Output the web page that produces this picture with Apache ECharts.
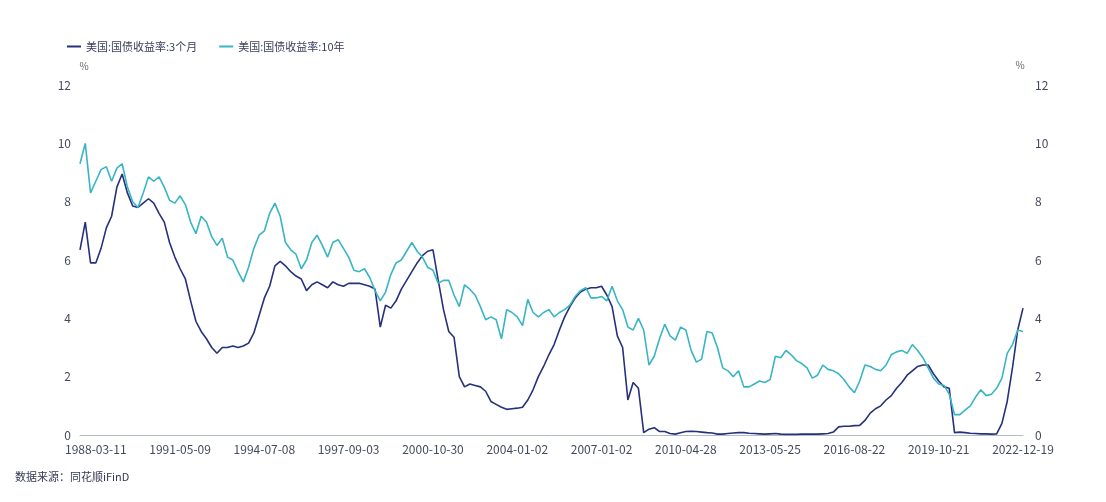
<!DOCTYPE html>
<html>
<head>
<meta charset="utf-8">
<script src="https://cdn.jsdelivr.net/npm/echarts@6/dist/echarts.min.js"></script>
<style>
html,body{margin:0;padding:0;background:#ffffff;}
#chart{width:1106px;height:502px;}
</style>
</head>
<body>
<div id="chart"></div>
<script>
// Tick labels shown on the x axis (every 16th category, starting at index 3)
const tickLabels = ['1988-03-11','1991-05-09','1994-07-08','1997-09-03','2000-10-30','2004-01-02','2007-01-02','2010-04-28','2013-05-25','2016-08-22','2019-10-21','2022-12-19'];
const tickStart = 3;
const tickStep = 16;

// US Treasury 3-month yield (%)
const yield3m = [
6.35,7.3,5.9,5.9,6.4,7.1,7.5,8.5,8.95,8.3,
7.85,7.8,7.95,8.1,7.95,7.6,7.3,6.6,6.1,5.7,
5.35,4.6,3.9,3.55,3.3,3.0,2.8,3.0,3.0,3.05,
3.0,3.05,3.15,3.5,4.1,4.7,5.1,5.8,5.95,5.8,
5.6,5.45,5.35,4.95,5.15,5.25,5.15,5.05,5.25,5.15,
5.1,5.2,5.2,5.2,5.15,5.1,5.0,3.7,4.45,4.35,
4.6,5.0,5.3,5.6,5.9,6.15,6.3,6.35,5.3,4.3,
3.55,3.35,2.0,1.65,1.75,1.7,1.65,1.5,1.15,1.05,
0.95,0.88,0.9,0.92,0.95,1.2,1.55,2.0,2.35,2.75,
3.1,3.6,4.05,4.4,4.7,4.9,5.0,5.05,5.05,5.1,
4.8,4.4,3.4,3.0,1.2,1.8,1.6,0.08,0.2,0.25,
0.12,0.12,0.05,0.03,0.08,0.12,0.13,0.12,0.1,0.08,
0.07,0.03,0.03,0.05,0.07,0.08,0.08,0.06,0.05,0.04,
0.03,0.04,0.05,0.03,0.02,0.02,0.02,0.03,0.03,0.03,
0.03,0.04,0.05,0.1,0.28,0.3,0.3,0.32,0.33,0.5,
0.75,0.9,1.0,1.2,1.35,1.6,1.8,2.05,2.2,2.35,
2.4,2.4,2.1,1.85,1.65,1.6,0.08,0.1,0.08,0.06,
0.05,0.04,0.04,0.03,0.04,0.4,1.15,2.3,3.6,4.35
];

// US Treasury 10-year yield (%)
const yield10y = [
9.3,10.0,8.3,8.7,9.1,9.2,8.7,9.15,9.3,8.5,
8.0,7.8,8.3,8.85,8.7,8.85,8.5,8.05,7.95,8.2,
7.9,7.3,6.9,7.5,7.3,6.8,6.5,6.75,6.1,6.0,
5.6,5.25,5.75,6.4,6.85,7.0,7.6,7.95,7.5,6.6,
6.35,6.2,5.7,6.0,6.6,6.85,6.5,6.1,6.6,6.7,
6.4,6.1,5.65,5.6,5.7,5.4,4.95,4.6,4.9,5.5,
5.9,6.0,6.3,6.6,6.3,6.1,5.75,5.65,5.2,5.3,
5.3,4.8,4.4,5.15,5.0,4.8,4.4,3.95,4.05,3.95,
3.3,4.3,4.2,4.05,3.75,4.65,4.2,4.05,4.2,4.3,
4.05,4.2,4.3,4.45,4.75,4.95,5.05,4.7,4.7,4.75,
4.6,5.1,4.6,4.3,3.7,3.6,4.0,3.6,2.4,2.7,
3.3,3.8,3.4,3.25,3.7,3.6,2.9,2.5,2.6,3.55,
3.5,3.0,2.3,2.2,2.0,2.2,1.65,1.65,1.75,1.85,
1.8,1.9,2.7,2.65,2.9,2.75,2.55,2.45,2.3,1.95,
2.05,2.4,2.25,2.2,2.1,1.9,1.65,1.45,1.85,2.4,
2.35,2.25,2.2,2.4,2.75,2.85,2.9,2.8,3.1,2.9,
2.65,2.3,1.95,1.75,1.7,1.4,0.7,0.7,0.85,1.0,
1.3,1.55,1.35,1.4,1.6,1.95,2.8,3.1,3.6,3.55
];

const seriesNames = ['美国:国债收益率:3个月', '美国:国债收益率:10年'];
const sourceText = '数据来源：同花顺iFinD';

// Category dates: tick labels at their indices, approximate dates in between
function buildCategories(n) {
  const t = tickLabels.map(s => Date.parse(s + 'T00:00:00Z'));
  const out = [];
  for (let i = 0; i < n; i++) {
    const r = i - tickStart;
    if (r >= 0 && r % tickStep === 0 && r / tickStep < tickLabels.length) { out.push(tickLabels[r / tickStep]); continue; }
    let k = Math.floor(r / tickStep);
    if (k < 0) k = 0;
    if (k > t.length - 2) k = t.length - 2;
    const f = (r - k * tickStep) / tickStep;
    const d = new Date(t[k] + f * (t[k + 1] - t[k]));
    out.push(d.toISOString().slice(0, 10));
  }
  return out;
}
const categories = buildCategories(yield3m.length);

const font = '"Noto Sans CJK SC", "Noto Sans", sans-serif';
const chart = echarts.init(document.getElementById('chart'), null, {renderer: 'canvas'});
chart.setOption({
  backgroundColor: '#ffffff',
  animation: false,
  textStyle: {fontFamily: font},
  legend: {
    left: 62, top: 36,
    icon: 'rect', itemWidth: 14, itemHeight: 2, itemGap: 22,
    textStyle: {fontSize: 11, color: '#3a3f5c', fontFamily: font},
    data: seriesNames
  },
  grid: {left: 80, right: 83, top: 85, bottom: 67, containLabel: false},
  graphic: [{
    type: 'text', left: 15, top: 471,
    style: {text: sourceText, fontSize: 11, fill: '#333a55', fontFamily: font}
  }],
  xAxis: {
    type: 'category',
    data: categories,
    boundaryGap: false,
    axisLine: {show: true, lineStyle: {color: '#b4bccb', width: 1}},
    axisTick: {show: false},
    splitLine: {show: false},
    axisLabel: {
      interval: (idx) => (idx - tickStart) >= 0 && (idx - tickStart) % tickStep === 0,
      margin: 8, fontSize: 12, color: '#444a5e', fontFamily: font,
      hideOverlap: false
    }
  },
  yAxis: [{
    type: 'value', position: 'left', min: 0, max: 12, interval: 2,
    name: '%', nameGap: 14,
    nameTextStyle: {fontSize: 10, color: '#666', padding: [0, 0, 0, 8]},
    axisLine: {show: false}, axisTick: {show: false}, splitLine: {show: false},
    axisLabel: {margin: 9, fontSize: 12, color: '#444a5e', fontFamily: font}
  }, {
    type: 'value', position: 'right', min: 0, max: 12, interval: 2,
    name: '%', nameGap: 15,
    nameTextStyle: {fontSize: 10, color: '#666', padding: [0, 6, 0, 0]},
    axisLine: {show: false}, axisTick: {show: false}, splitLine: {show: false},
    axisLabel: {margin: 12, fontSize: 12, color: '#444a5e', fontFamily: font}
  }],
  series: [{
    name: seriesNames[0], type: 'line', yAxisIndex: 0,
    data: yield3m, showSymbol: false, symbol: 'none',
    lineStyle: {color: '#26307c', width: 1.6}, itemStyle: {color: '#26307c'}
  }, {
    name: seriesNames[1], type: 'line', yAxisIndex: 0,
    data: yield10y, showSymbol: false, symbol: 'none',
    lineStyle: {color: '#38b5c4', width: 1.6}, itemStyle: {color: '#38b5c4'}
  }]
});
</script>
</body>
</html>
